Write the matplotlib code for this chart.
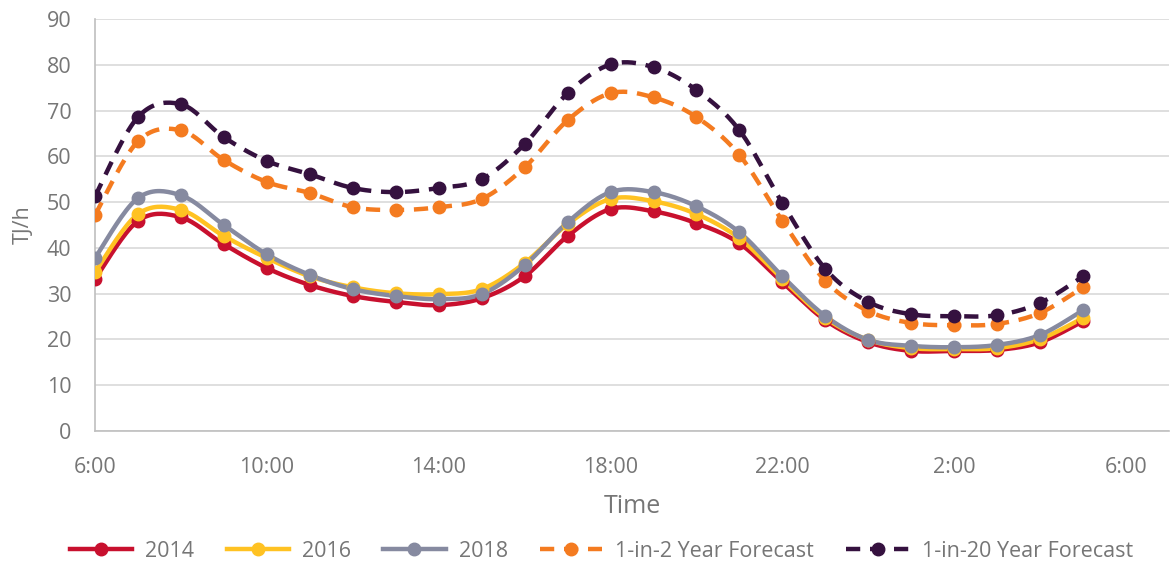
import numpy as np
import matplotlib
matplotlib.use("Agg")
import matplotlib.pyplot as plt

hours = list(range(24))  # hours after 6:00
tick_labels = ["6:00", "10:00", "14:00", "18:00", "22:00", "2:00", "6:00"]

y2014 = [33.2, 45.9, 46.7, 40.8, 35.6, 31.9, 29.5, 28.2, 27.5, 29.0, 33.8, 42.6,
         48.5, 48.0, 45.4, 41.0, 32.5, 24.2, 19.4, 17.5, 17.5, 17.7, 19.4, 24.0]
y2016 = [34.7, 47.4, 48.3, 42.6, 37.8, 33.8, 31.4, 30.1, 29.9, 31.0, 36.7, 45.2,
         50.7, 50.2, 47.4, 42.1, 33.2, 24.7, 19.9, 18.1, 17.9, 18.1, 20.1, 24.7]
y2018 = [37.8, 50.9, 51.5, 45.0, 38.6, 34.1, 31.0, 29.5, 28.8, 29.9, 36.2, 45.6,
         52.2, 52.2, 49.1, 43.4, 33.8, 25.1, 19.9, 18.6, 18.3, 18.8, 21.0, 26.4]
f1in2 = [47.2, 63.3, 65.7, 59.2, 54.4, 52.0, 48.9, 48.3, 48.9, 50.7, 57.6, 67.9,
         73.8, 72.9, 68.6, 60.3, 45.9, 32.8, 26.2, 23.6, 23.1, 23.4, 25.8, 31.4]
f1in20 = [51.3, 68.6, 71.4, 64.2, 59.0, 56.1, 53.1, 52.2, 53.1, 55.0, 62.7, 73.8,
          80.1, 79.5, 74.5, 65.7, 49.8, 35.4, 28.2, 25.5, 25.1, 25.3, 28.0, 33.8]

series = [
    ("2014", y2014, "#C8102E", "-"),
    ("2016", y2016, "#FFC222", "-"),
    ("2018", y2018, "#868AA0", "-"),
    ("1-in-2 Year Forecast", f1in2, "#F47B20", (0, (3.2, 2.2))),
    ("1-in-20 Year Forecast", f1in20, "#35113F", (0, (3.2, 2.2))),
]


def smooth(x, y, n=20):
    # Catmull-Rom style smoothing (like Excel smoothed lines) through the points
    x = np.asarray(x, float)
    y = np.asarray(y, float)
    xs, ys = [], []
    for i in range(len(x) - 1):
        p0 = (x[i - 1], y[i - 1]) if i > 0 else (x[i], y[i])
        p1 = (x[i], y[i])
        p2 = (x[i + 1], y[i + 1])
        p3 = (x[i + 2], y[i + 2]) if i + 2 < len(x) else (x[i + 1], y[i + 1])
        c1 = (p1[0] + (p2[0] - p0[0]) / 6, p1[1] + (p2[1] - p0[1]) / 6)
        c2 = (p2[0] - (p3[0] - p1[0]) / 6, p2[1] - (p3[1] - p1[1]) / 6)
        t = np.linspace(0, 1, n, endpoint=(i == len(x) - 2))
        b0 = (1 - t) ** 3
        b1 = 3 * (1 - t) ** 2 * t
        b2 = 3 * (1 - t) * t ** 2
        b3 = t ** 3
        xs.append(b0 * p1[0] + b1 * c1[0] + b2 * c2[0] + b3 * p2[0])
        ys.append(b0 * p1[1] + b1 * c1[1] + b2 * c2[1] + b3 * p2[1])
    return np.concatenate(xs), np.concatenate(ys)


plt.rcParams['font.family'] = ['Open Sans', 'DejaVu Sans']
fig = plt.figure(figsize=(11.7, 5.63), dpi=100)
ax = fig.add_axes([0.0812, 0.2345, 0.918, 0.7315])

txt = "#767676"
for name, vals, col, ls in series:
    sx, sy = smooth(hours, vals)
    ax.plot(sx, sy, color=col, lw=3.2, ls=ls, solid_capstyle='round', dash_capstyle='butt', zorder=3)
    ax.plot(hours, vals, ls='none', marker='o', ms=9, color=col, zorder=4)
    ax.plot([], [], color=col, lw=3.2, ls=ls, marker='o', ms=9, label=name)

ax.set_xlim(0, 25)
ax.set_ylim(0, 90)
ax.set_yticks(range(0, 91, 10))
ax.set_xticks(range(0, 25, 4))
ax.set_xticklabels(tick_labels)
ax.grid(axis='y', color='#D9D9D9', lw=1.2)
ax.set_axisbelow(True)
for s in ['top', 'right']:
    ax.spines[s].set_visible(False)
for s in ['left', 'bottom']:
    ax.spines[s].set_color('#BFBFBF')
    ax.spines[s].set_linewidth(1.2)
ax.tick_params(axis='both', length=0, labelsize=15.5, colors=txt)
ax.tick_params(axis='x', pad=19)
ax.tick_params(axis='y', pad=17)
ax.set_xlabel("Time", fontsize=18, color=txt, labelpad=11)
ax.set_ylabel("TJ/h", fontsize=15.5, color=txt, labelpad=9)

leg = fig.legend(loc='center', bbox_to_anchor=(0.514, 0.021), ncol=5, frameon=False,
                 fontsize=15.5, handlelength=2.9, columnspacing=1.5, handletextpad=0.6,
                 borderpad=0, borderaxespad=0)
for t in leg.get_texts():
    t.set_color(txt)

fig.savefig("out.png", dpi=100)
